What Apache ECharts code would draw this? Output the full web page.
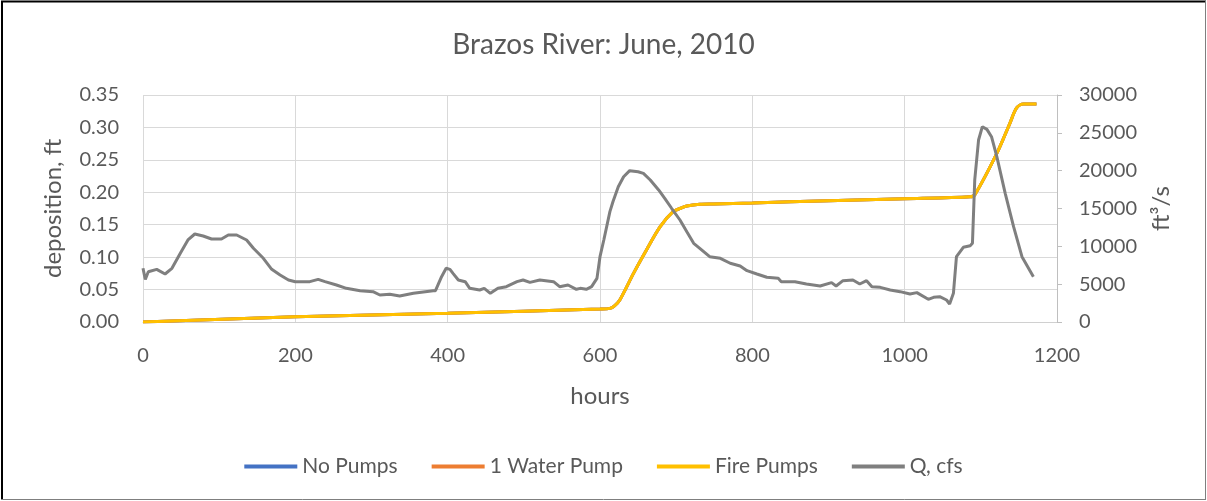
<!DOCTYPE html>
<html>
<head>
<meta charset="utf-8">
<script src="https://cdn.jsdelivr.net/npm/echarts@6/dist/echarts.min.js"></script>
<style>
  html, body { margin: 0; padding: 0; background: #fff; }
  #chart { width: 1207px; height: 501px; }
</style>
</head>
<body>
<div id="chart"></div>
<script>
// hours and flow (cfs)
var qHours = [0, 3, 7, 18, 29, 38, 49, 59, 68, 79, 90, 103, 112, 123, 136, 145, 158, 169, 180, 191,
  200, 219, 230, 239, 254, 267, 285, 302, 311, 324, 337, 355, 381, 384, 392, 398, 403, 407, 414, 423,
  429, 442, 448, 456, 466, 477, 491, 499, 508, 521, 539, 547, 558, 569, 574, 582, 589, 596, 600, 605,
  613, 617, 624, 631, 639, 650, 657, 666, 677, 685, 694, 705, 714, 723, 731, 744, 758, 771, 784, 793,
  806, 819, 834, 838, 856, 871, 889, 904, 910, 919, 932, 941, 950, 957, 968, 981, 994, 1007, 1016, 1031,
  1038, 1046, 1055, 1059, 1064, 1068, 1077, 1086, 1089, 1092, 1097, 1102, 1108, 1114, 1121, 1132, 1143, 1154, 1169];
var qFlow = [7100, 5640, 6650, 6960, 6340, 7090, 9080, 10840, 11630, 11370, 10970, 10970, 11500, 11500, 10840, 9740, 8420, 6960, 6210, 5550,
  5330, 5330, 5640, 5330, 4890, 4450, 4140, 4010, 3570, 3660, 3440, 3790, 4140, 4140, 5990, 7100, 6960, 6430, 5550, 5330,
  4450, 4230, 4450, 3790, 4450, 4670, 5330, 5550, 5240, 5550, 5330, 4670, 4890, 4320, 4450, 4320, 4670, 5770, 8630, 10840,
  14580, 15900, 17880, 19200, 20000, 19860, 19640, 18770, 17450, 16350, 15030, 13480, 11930, 10400, 9740, 8630, 8420, 7760, 7400, 6780,
  6340, 5910, 5770, 5330, 5330, 5020, 4760, 5200, 4760, 5460, 5550, 5020, 5460, 4670, 4580, 4230, 4010, 3700, 3880, 3000,
  3260, 3350, 2910, 2380, 3790, 8630, 9870, 10080, 10400, 18770, 24050, 25810, 25460, 24490, 21850, 17010, 12600, 8630, 5990];

// deposition (ft); the three pump cases plot on top of each other
var depHours = [0, 200, 400, 600, 613, 619, 626, 644, 661, 679, 696, 707, 714, 731, 749, 800, 900, 1000, 1086, 1092, 1121, 1138, 1147, 1156, 1173];
var depNoPumps = [0, 0.008, 0.0135, 0.020, 0.021, 0.025, 0.034, 0.075, 0.111, 0.147, 0.170, 0.176, 0.179, 0.1815, 0.182, 0.1835, 0.187, 0.190, 0.193, 0.196, 0.260, 0.306, 0.330, 0.336, 0.336];
var depWaterPump = depNoPumps.slice();
var depFirePumps = depNoPumps.slice();

var xTicks = { min: 0, max: 1200, step: 200 };
var leftTicks = { min: 0, max: 0.35, step: 0.05 };
var rightTicks = { min: 0, max: 30000, step: 5000 };

function pairs(xs, ys) {
  return xs.map(function (x, i) { return [x, ys[i]]; });
}
function plain(v) { return String(v); }

var txt = '#595959';
var font = 'Lato';
var dom = document.getElementById('chart');
var myChart = echarts.init(dom);

var option = {
  backgroundColor: '#fff',
  animation: false,
  textStyle: { fontFamily: font },
  title: {
    text: 'Brazos River: June, 2010',
    left: 'center',
    top: 26,
    textStyle: { fontFamily: font, fontSize: 28, fontWeight: 'normal', color: txt }
  },
  legend: {
    top: 451,
    left: 'center',
    itemWidth: 53,
    itemHeight: 4,
    itemGap: 34,
    icon: 'rect',
    textStyle: { fontFamily: font, fontSize: 21, color: txt },
    data: ['No Pumps', '1 Water Pump', 'Fire Pumps', 'Q, cfs']
  },
  grid: { left: 143, right: 150, top: 95, bottom: 179 },
  xAxis: {
    type: 'value',
    min: xTicks.min, max: xTicks.max, interval: xTicks.step,
    name: 'hours', nameLocation: 'middle', nameGap: 62,
    nameTextStyle: { fontFamily: font, fontSize: 24, color: txt },
    axisLine: { lineStyle: { color: '#d0d0d0', width: 1 } },
    axisTick: { show: false },
    axisLabel: { fontFamily: font, fontSize: 20, color: txt, margin: 24, formatter: plain },
    splitLine: { show: true, lineStyle: { color: '#d9d9d9', width: 1 } }
  },
  yAxis: [{
    type: 'value',
    min: leftTicks.min, max: leftTicks.max, interval: leftTicks.step,
    name: 'deposition, ft', nameLocation: 'middle', nameGap: 78, nameRotate: 90,
    nameTextStyle: { fontFamily: font, fontSize: 24, color: txt },
    axisLine: { show: false },
    axisTick: { show: false },
    axisLabel: { fontFamily: font, fontSize: 20, color: txt, margin: 24, formatter: function (v) { return v.toFixed(2); } },
    splitLine: { show: true, lineStyle: { color: '#d9d9d9', width: 1 } }
  }, {
    type: 'value',
    position: 'right',
    min: rightTicks.min, max: rightTicks.max, interval: rightTicks.step,
    name: 'ft³/s', nameLocation: 'middle', nameGap: 92, nameRotate: 90,
    nameTextStyle: { fontFamily: font, fontSize: 24, color: txt },
    axisLine: { show: true, lineStyle: { color: '#bfbfbf', width: 1 } },
    axisTick: { show: true, length: 5, lineStyle: { color: '#bfbfbf' } },
    axisLabel: { fontFamily: font, fontSize: 20, color: txt, margin: 22, formatter: plain },
    splitLine: { show: false }
  }],
  series: [{
    name: 'No Pumps', type: 'line', yAxisIndex: 0, showSymbol: false, smooth: 0.3,
    color: '#4472C4', lineStyle: { width: 3 },
    data: pairs(depHours, depNoPumps)
  }, {
    name: '1 Water Pump', type: 'line', yAxisIndex: 0, showSymbol: false, smooth: 0.3,
    color: '#ED7D31', lineStyle: { width: 3 },
    data: pairs(depHours, depWaterPump)
  }, {
    name: 'Fire Pumps', type: 'line', yAxisIndex: 0, showSymbol: false, smooth: 0.3,
    color: '#FFC000', lineStyle: { width: 3 },
    data: pairs(depHours, depFirePumps)
  }, {
    name: 'Q, cfs', type: 'line', yAxisIndex: 1, showSymbol: false,
    color: '#7F7F7F', lineStyle: { width: 3 },
    data: pairs(qHours, qFlow)
  }],
  graphic: [
    { type: 'line', shape: { x1: 1, y1: 1.5, x2: 1206, y2: 1.5 }, style: { stroke: '#000', lineWidth: 2 } },
    { type: 'line', shape: { x1: 2, y1: 1, x2: 2, y2: 500 }, style: { stroke: '#000', lineWidth: 2 } },
    { type: 'line', shape: { x1: 1, y1: 499.5, x2: 1206, y2: 499.5 }, style: { stroke: '#7f7f7f', lineWidth: 1 } },
    { type: 'line', shape: { x1: 1205.5, y1: 1, x2: 1205.5, y2: 500 }, style: { stroke: '#7f7f7f', lineWidth: 1 } }
  ]
};

if (option && typeof option === "object") {
  myChart.setOption(option, true);
}
</script>
</body>
</html>
